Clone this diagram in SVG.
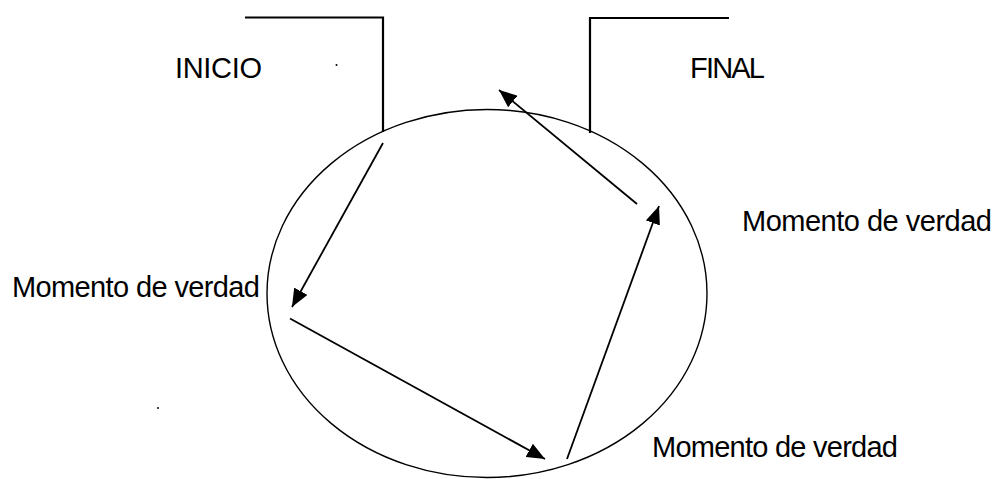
<svg xmlns="http://www.w3.org/2000/svg" width="998" height="479" viewBox="0 0 998 479">
<style>
.lbl{font-family:"Liberation Sans",Arial,sans-serif;font-size:29px;fill:#000}
.brk{fill:none;stroke:#000;stroke-width:2.2}
.arr{fill:none;stroke:#000;stroke-width:1.8;marker-end:url(#ah)}
</style>
<defs>
<marker id="ah" markerUnits="userSpaceOnUse" markerWidth="19" markerHeight="15" refX="18" refY="7.5" orient="auto">
<path d="M0,0 L18,7.5 L0,15 z" fill="#000"/>
</marker>
</defs>
<rect width="998" height="479" fill="#fff"/>
<g id="inicio">
<polyline class="brk" points="245,17.5 383,17.5 383,132"/>
<text class="lbl" x="175" y="78" textLength="87">INICIO</text>
</g>
<g id="final">
<polyline class="brk" points="590,133 590,18 729,18"/>
<text class="lbl" x="690" y="78" textLength="75">FINAL</text>
</g>
<g id="ciclo">
<ellipse cx="487" cy="293.5" rx="220" ry="184" fill="none" stroke="#000" stroke-width="1.4"/>
</g>
<g id="momento1">
<text class="lbl" x="12" y="297" textLength="248">Momento de verdad</text>
</g>
<g id="momento2">
<text class="lbl" x="652" y="457" textLength="246">Momento de verdad</text>
</g>
<g id="momento3">
<text class="lbl" x="742" y="231" textLength="250">Momento de verdad</text>
</g>
<g id="connectors">
<line class="arr" x1="383" y1="143" x2="292" y2="307"/>
<line class="arr" x1="290" y1="318.5" x2="545" y2="459"/>
<line class="arr" x1="567" y1="459" x2="659" y2="206"/>
<line class="arr" x1="637" y1="204" x2="499" y2="90"/>
</g>
<circle cx="336.5" cy="65" r="1" fill="#000"/>
<circle cx="158" cy="408" r="1" fill="#000"/>
</svg>
